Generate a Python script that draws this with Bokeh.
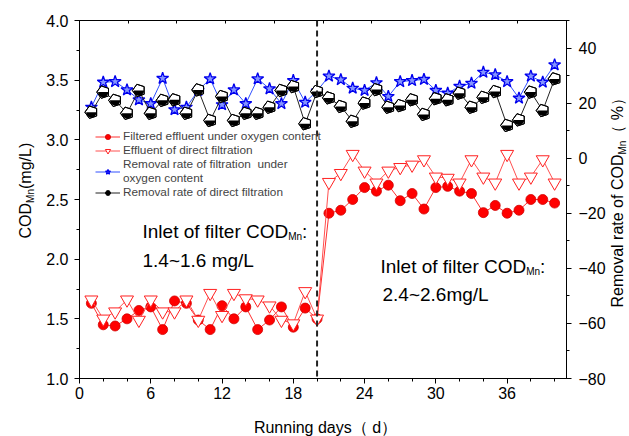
from bokeh.plotting import figure
from bokeh.layouts import column
from bokeh.models import (Range1d, LinearAxis, SingleIntervalTicker, Span, Label,
                          Legend, LegendItem, PrintfTickFormatter, ColumnDataSource)
from bokeh.embed import file_html
from bokeh.resources import INLINE
import math

# ---------------- data ----------------
days = list(range(1, 41))
filtered_oxygen = [1.63, 1.45, 1.44, 1.50, 1.57, 1.60, 1.41, 1.65, 1.63, 1.49,
                   1.41, 1.61, 1.50, 1.60, 1.41, 1.49, 1.60, 1.43, 1.59, 1.50,
                   2.385, 2.41, 2.50, 2.60, 2.57, 2.62, 2.49, 2.55, 2.42, 2.60,
                   2.61, 2.57, 2.55, 2.39, 2.45, 2.385, 2.41, 2.50, 2.50, 2.47]
direct_effluent = [1.66, 1.50, 1.56, 1.66, 1.49, 1.66, 1.56, 1.56, 1.66, 1.49,
                   1.715, 1.53, 1.715, 1.67, 1.66, 1.61, 1.49, 1.46, 1.73, 1.50,
                   2.645, 2.72, 2.88, 2.74, 2.64, 2.74, 2.77, 2.79, 2.835, 2.69,
                   2.68, 2.64, 2.835, 2.69, 2.64, 2.88, 2.64, 2.69, 2.835, 2.64]
removal_oxygen = [18.5, 27.6, 27.8, 24.8, 21.2, 19.8, 29.0, 17.6, 18.5, 24.6,
                  28.8, 19.4, 24.8, 19.8, 28.8, 25.2, 19.8, 28.2, 20.3, 24.4,
                  29.8, 28.5, 25.4, 24.6, 27.4, 22.4, 27.8, 28.2, 28.6, 24.6,
                  23.6, 26.1, 27.2, 31.2, 30.3, 27.8, 21.8, 29.8, 27.6, 33.9]
removal_direct = [16.7, 24.0, 21.0, 16.3, 24.6, 16.3, 21.0, 21.2, 16.3, 24.8,
                  13.7, 22.4, 13.7, 16.3, 16.3, 18.5, 24.6, 26.0, 12.5, 24.2,
                  21.9, 18.8, 13.4, 20.0, 24.9, 18.5, 19.1, 21.2, 15.9, 21.6,
                  21.2, 23.6, 18.5, 22.1, 24.2, 11.9, 13.9, 24.0, 17.3, 28.8]
switch_day = 20

legend_labels = ["Filtered effluent under oxygen content",
                 "Effluent of direct filtration",
                 "Removal rate of filtration  under\noxygen content",
                 "Removal rate of direct filtration"]

FONT = "Liberation Sans"
W, H = 629, 436

src = ColumnDataSource(dict(day=days, f=filtered_oxygen, d=direct_effluent,
                            ro=removal_oxygen, rd=removal_direct))

fig = figure(width=W, height=H, x_range=Range1d(0, 41), y_range=Range1d(1, 4),
             output_backend="svg", toolbar_location=None,
             min_border_left=79, min_border_right=63, min_border_top=20, min_border_bottom=58)
fig.xgrid.visible = False
fig.ygrid.visible = False
fig.outline_line_color = "black"
fig.outline_line_width = 1
fig.background_fill_color = "white"
fig.border_fill_color = "white"

fig.extra_y_ranges = {"rr": Range1d(-80, 50)}
fig.extra_x_ranges = {"top": Range1d(0, 10)}

def style_axis(ax):
    ax.axis_line_color = "black"
    ax.major_tick_line_color = "black"
    ax.minor_tick_line_color = "black"
    ax.major_tick_out = 5
    ax.major_tick_in = 0
    ax.minor_tick_out = 3
    ax.minor_tick_in = 0
    ax.major_label_text_font = FONT
    ax.major_label_text_font_size = "16px"
    ax.major_label_text_color = "black"

fig.xaxis.ticker = SingleIntervalTicker(interval=6, num_minor_ticks=3)
fig.yaxis.ticker = SingleIntervalTicker(interval=0.5, num_minor_ticks=2)
fig.yaxis.formatter = PrintfTickFormatter(format="%.1f")
for ax in fig.xaxis + fig.yaxis:
    style_axis(ax)
fig.xaxis.major_label_standoff = 3
fig.yaxis.major_label_standoff = 6

rax = LinearAxis(y_range_name="rr", ticker=SingleIntervalTicker(interval=20, num_minor_ticks=2))
style_axis(rax)
rax.major_label_standoff = 7
fig.add_layout(rax, "right")

tax = LinearAxis(x_range_name="top", ticker=SingleIntervalTicker(interval=1, num_minor_ticks=0))
tax.major_tick_in = 3
tax.major_tick_out = 0
tax.minor_tick_in = 0
tax.minor_tick_out = 0
tax.major_label_text_font_size = "1px"
tax.major_label_text_color = None
tax.major_label_standoff = 0
tax.axis_line_color = "black"
fig.add_layout(tax, "above")

# ---------------- series ----------------
l1 = fig.line("day", "f", source=src, line_color="#ff3030", line_width=1)
s1 = fig.scatter("day", "f", source=src, marker="circle", size=10,
                 fill_color="#ff0000", line_color="#d00000", line_width=0.8)

l2 = fig.line("day", "d", source=src, line_color="#ff5050", line_width=1)
s2 = fig.scatter("day", "d", source=src, marker="inverted_triangle", size=13,
                 fill_color="white", line_color="#ff2020", line_width=1)

l3 = fig.line("day", "ro", source=src, y_range_name="rr", line_color="#3050ff", line_width=1)
s3 = fig.scatter("day", "ro", source=src, y_range_name="rr", marker="star", size=12.5,
                 fill_color="#8494ff", line_color="#0000ee", line_width=1.3)

l4 = fig.line("day", "rd", source=src, y_range_name="rr", line_color="#222222", line_width=1)
# legend stand-in, fully hidden under the pentagons drawn next
s4 = fig.scatter("day", "rd", source=src, y_range_name="rr", marker="hex", size=10,
                 angle=math.pi / 2, fill_color="black", line_color="black")
g4a = fig.ngon("day", "rd", source=src, y_range_name="rr", radius=6.5, radius_units="screen",
               n=5, angle=math.pi / 2, fill_color="white", line_color="black", line_width=1)
g4b = fig.wedge("day", "rd", source=src, y_range_name="rr", radius=5.2, radius_units="screen",
                start_angle=math.pi, end_angle=2 * math.pi, fill_color="black", line_color=None)
g4c = fig.ngon("day", "rd", source=src, y_range_name="rr", radius=6.5, radius_units="screen",
               n=5, angle=math.pi / 2, fill_color=None, line_color="black", line_width=1)

fig.add_layout(Span(location=switch_day, dimension="height", line_color="#222222",
                    line_width=2, line_dash="6 4"))

legend = Legend(items=[LegendItem(label=legend_labels[0], renderers=[l1, s1]),
                       LegendItem(label=legend_labels[1], renderers=[l2, s2]),
                       LegendItem(label=legend_labels[2], renderers=[l3, s3]),
                       LegendItem(label=legend_labels[3], renderers=[l4, s4])],
                location=(16, 179), padding=0, margin=0, spacing=0, label_standoff=3,
                glyph_width=25, glyph_height=13, label_height=13,
                label_text_font=FONT, label_text_font_size="11.8px",
                border_line_color=None, background_fill_alpha=0)
fig.add_layout(legend)

# ---------------- in-plot texts ----------------
def lab(target, x, y, text, size, units="screen", angle=0.0, align="left"):
    target.add_layout(Label(x=x, y=y, x_units=units, y_units=units, text=text,
                            text_font=FONT, text_font_size=size, text_color="black",
                            angle=angle, text_align=align, text_baseline="alphabetic"))

lab(fig, 63, 147, "Inlet of filter COD", "19px")
lab(fig, 208.7, 142, "Mn", "10px")
lab(fig, 222.6, 147, ":", "19px")
lab(fig, 63, 118, "1.4~1.6 mg/L", "19px")

lab(fig, 301, 112, "Inlet of filter COD", "19px")
lab(fig, 446.7, 107, "Mn", "10px")
lab(fig, 460.6, 112, ":", "19px")
lab(fig, 303, 84, "2.4~2.6mg/L", "19px")

# ---------------- axis titles (transparent overlay, same canvas size) ----------------
ov = figure(width=W, height=H, x_range=Range1d(0, W), y_range=Range1d(0, H),
            x_axis_type=None, y_axis_type=None, min_border=0,
            output_backend="svg", toolbar_location=None,
            background_fill_color=None, border_fill_color=None, outline_line_color=None,
            styles={"margin-top": "-%dpx" % H})
for plot in (fig, ov):
    try:
        plot.frame_align = False
    except AttributeError:
        pass

up = math.pi / 2
lab(ov, 25, H - 238, "COD", "16px", units="data", angle=up)
lab(ov, 30, H - 202.4, "Mn", "10px", units="data", angle=up)
lab(ov, 25, H - 188.5, "(mg/L)", "16px", units="data", angle=up)

lab(ov, 617, H - 307, "Removal rate of COD", "16px", units="data", angle=up)
lab(ov, 622, H - 154.1, "Mn", "10px", units="data", angle=up)
lab(ov, 617, H - 140.2, "\uff08 %\uff09", "16px", units="data", angle=up)

lab(ov, 325, H - 427, "Running days\uff08 d\uff09", "16px", units="data", align="center")

p = column(fig, ov)
open("out.html", "w").write(file_html(p, INLINE))
